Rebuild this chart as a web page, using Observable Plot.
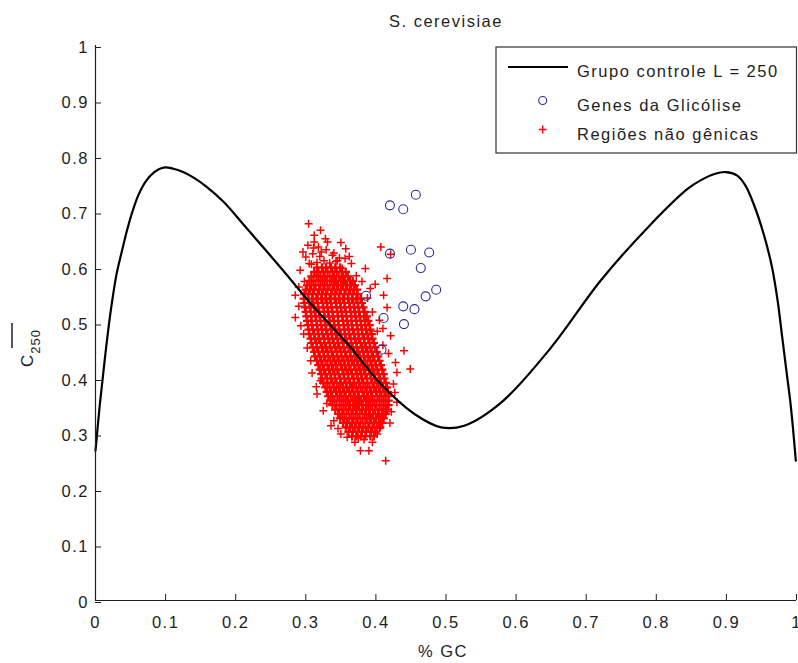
<!DOCTYPE html>
<html><head><meta charset="utf-8">
<script src="https://cdn.jsdelivr.net/npm/d3@7"></script>
<script src="https://cdn.jsdelivr.net/npm/@observablehq/plot@0.6"></script>
<style>
body{margin:0;background:#fff;}
#chart svg{display:block;}
</style>
</head><body><div id="chart"></div>
<script>
// ---- control curve (Grupo controle L = 250) ----
const curveGC = [0, 0.006, 0.010, 0.014, 0.019, 0.023, 0.030, 0.037, 0.045, 0.052, 0.061, 0.071, 0.083, 0.097, 0.111, 0.125, 0.140, 0.159, 0.183, 0.212, 0.264, 0.312, 0.36, 0.407, 0.455, 0.493, 0.526, 0.579, 0.65, 0.721, 0.793, 0.845, 0.863, 0.882, 0.899, 0.915, 0.927, 0.939, 0.953, 0.965, 0.973, 0.979, 0.985, 0.991, 0.995, 0.999];
const curveC  = [0.27, 0.351, 0.397, 0.443, 0.496, 0.533, 0.588, 0.626, 0.667, 0.698, 0.730, 0.754, 0.771, 0.780, 0.778, 0.772, 0.762, 0.745, 0.718, 0.676, 0.60, 0.528, 0.462, 0.39, 0.336, 0.312, 0.315, 0.357, 0.456, 0.577, 0.679, 0.742, 0.757, 0.768, 0.772, 0.766, 0.748, 0.714, 0.661, 0.601, 0.541, 0.481, 0.42, 0.36, 0.31, 0.252];

// ---- Genes da Glicólise ----
const glyGC = [0.457, 0.420, 0.439, 0.420, 0.450, 0.476, 0.464, 0.486, 0.471, 0.386, 0.439, 0.455, 0.411, 0.440, 0.408];
const glyC  = [0.731, 0.712, 0.705, 0.625, 0.632, 0.627, 0.599, 0.560, 0.548, 0.549, 0.530, 0.525, 0.509, 0.498, 0.452];

// ---- Regiões não gênicas: dense core, one row per C value: [C, GC, GC, ...] ----
const nonGenicRows = [
[0.600,0.316,0.323,0.329,0.336,0.342,0.349],
[0.592,0.312,0.318,0.325,0.331,0.338,0.344,0.351,0.357],
[0.584,0.308,0.315,0.321,0.327,0.334,0.340,0.347,0.353,0.360],
[0.576,0.305,0.311,0.318,0.324,0.330,0.337,0.343,0.350,0.356,0.363,0.367],
[0.568,0.302,0.308,0.314,0.321,0.327,0.334,0.340,0.346,0.353,0.359,0.365,0.370],
[0.560,0.300,0.306,0.312,0.319,0.325,0.331,0.338,0.344,0.350,0.357,0.363,0.369,0.373],
[0.552,0.298,0.304,0.310,0.317,0.323,0.329,0.336,0.342,0.348,0.355,0.361,0.367,0.374],
[0.544,0.297,0.303,0.309,0.315,0.322,0.328,0.334,0.341,0.347,0.353,0.360,0.366,0.372,0.378],
[0.536,0.298,0.305,0.311,0.317,0.324,0.330,0.336,0.343,0.349,0.355,0.362,0.368,0.374,0.380],
[0.528,0.299,0.306,0.312,0.318,0.325,0.331,0.337,0.344,0.350,0.356,0.363,0.369,0.375,0.382],
[0.520,0.300,0.307,0.313,0.319,0.326,0.332,0.338,0.345,0.351,0.357,0.364,0.370,0.376,0.384],
[0.512,0.301,0.308,0.314,0.320,0.327,0.333,0.339,0.346,0.352,0.358,0.365,0.371,0.377,0.383,0.387],
[0.504,0.302,0.308,0.315,0.321,0.327,0.334,0.340,0.346,0.353,0.359,0.365,0.372,0.378,0.384,0.389],
[0.496,0.303,0.309,0.316,0.322,0.328,0.335,0.341,0.347,0.354,0.360,0.366,0.373,0.379,0.385,0.391],
[0.488,0.304,0.310,0.317,0.323,0.329,0.336,0.342,0.348,0.355,0.361,0.367,0.374,0.380,0.386,0.392],
[0.480,0.305,0.312,0.318,0.324,0.331,0.337,0.343,0.350,0.356,0.362,0.369,0.375,0.381,0.388,0.394],
[0.472,0.307,0.313,0.319,0.326,0.332,0.338,0.345,0.351,0.357,0.364,0.370,0.376,0.383,0.389,0.395],
[0.464,0.308,0.315,0.321,0.327,0.334,0.340,0.346,0.353,0.359,0.365,0.372,0.378,0.384,0.391,0.397],
[0.456,0.310,0.316,0.323,0.329,0.335,0.342,0.348,0.354,0.361,0.367,0.373,0.380,0.386,0.392,0.399],
[0.448,0.312,0.318,0.325,0.331,0.337,0.344,0.350,0.356,0.363,0.369,0.375,0.382,0.388,0.394,0.401],
[0.440,0.313,0.320,0.326,0.332,0.339,0.345,0.351,0.358,0.364,0.370,0.377,0.383,0.389,0.396,0.403],
[0.432,0.316,0.322,0.328,0.335,0.341,0.347,0.354,0.360,0.366,0.373,0.379,0.385,0.392,0.398,0.405],
[0.424,0.318,0.324,0.331,0.337,0.343,0.350,0.356,0.362,0.369,0.375,0.381,0.388,0.394,0.400,0.407],
[0.416,0.320,0.326,0.333,0.339,0.345,0.352,0.358,0.364,0.371,0.377,0.383,0.390,0.396,0.402,0.409],
[0.408,0.322,0.328,0.335,0.341,0.347,0.354,0.360,0.366,0.373,0.379,0.385,0.392,0.398,0.404,0.411],
[0.400,0.323,0.330,0.336,0.342,0.349,0.355,0.361,0.368,0.374,0.380,0.387,0.393,0.399,0.406,0.412],
[0.392,0.325,0.331,0.338,0.344,0.350,0.357,0.363,0.369,0.376,0.382,0.388,0.395,0.401,0.407,0.414],
[0.384,0.328,0.334,0.340,0.347,0.353,0.359,0.366,0.372,0.378,0.385,0.391,0.397,0.404,0.410,0.416],
[0.376,0.330,0.336,0.343,0.349,0.355,0.362,0.368,0.374,0.381,0.387,0.393,0.400,0.406,0.412,0.417],
[0.368,0.332,0.338,0.345,0.351,0.357,0.364,0.370,0.376,0.383,0.389,0.395,0.402,0.408,0.414,0.418],
[0.360,0.335,0.341,0.348,0.354,0.360,0.367,0.373,0.379,0.386,0.392,0.398,0.405,0.411,0.418],
[0.352,0.338,0.344,0.351,0.357,0.363,0.370,0.376,0.382,0.389,0.395,0.401,0.408,0.414,0.418],
[0.344,0.342,0.348,0.354,0.361,0.367,0.373,0.380,0.386,0.392,0.399,0.405,0.411,0.416],
[0.336,0.346,0.352,0.358,0.365,0.371,0.377,0.384,0.390,0.396,0.403,0.409,0.414],
[0.328,0.349,0.355,0.362,0.368,0.374,0.381,0.387,0.393,0.400,0.406,0.411],
[0.320,0.353,0.359,0.366,0.372,0.378,0.385,0.391,0.397,0.404,0.409],
[0.312,0.357,0.363,0.370,0.376,0.382,0.389,0.395,0.401,0.406],
[0.304,0.361,0.367,0.374,0.380,0.386,0.393,0.399],
[0.296,0.366,0.372,0.379,0.385,0.392,0.397]
];
// ---- Regiões não gênicas: scattered points around the core ----
const extraGC = [0.304,0.321,0.312,0.328,0.312,0.331,0.357,0.300,0.292,0.338,0.352,0.407,0.421,0.416,0.392,0.411,0.416,0.285,0.285,0.421,0.440,0.428,0.449,0.430,0.325,0.340,0.378,0.390,0.414,0.359,0.402,0.430,0.316,0.307,0.297,0.321,0.296,0.305,0.318,0.345,0.365,0.298,0.372,0.380,0.388,0.395,0.405,0.410,0.402,0.410,0.418,0.425,0.427,0.422,0.420,0.336,0.350,0.370,0.383,0.346,0.290,0.290,0.293,0.302,0.309,0.315,0.330,0.395,0.375,0.405,0.413,0.399,0.385,0.362,0.350,0.320,0.310,0.308,0.316,0.326,0.334,0.343,0.303,0.311,0.322,0.329,0.340,0.348,0.356];
const extraC  = [0.679,0.667,0.658,0.652,0.646,0.646,0.634,0.619,0.595,0.622,0.598,0.637,0.624,0.580,0.562,0.550,0.528,0.550,0.510,0.477,0.450,0.429,0.417,0.411,0.342,0.324,0.270,0.270,0.252,0.294,0.300,0.357,0.372,0.432,0.480,0.396,0.628,0.607,0.637,0.612,0.607,0.575,0.585,0.575,0.545,0.520,0.505,0.490,0.485,0.460,0.445,0.390,0.375,0.340,0.320,0.315,0.300,0.285,0.290,0.310,0.565,0.530,0.495,0.455,0.410,0.385,0.355,0.285,0.293,0.310,0.335,0.570,0.598,0.620,0.645,0.620,0.625,0.606,0.609,0.612,0.608,0.611,0.640,0.635,0.628,0.632,0.626,0.617,0.616];

// ---- ticks and texts ----
const xTicks = [0, 0.1, 0.2, 0.3, 0.4, 0.5, 0.6, 0.7, 0.8, 0.9, 1];
const yTicks = [0, 0.1, 0.2, 0.3, 0.4, 0.5, 0.6, 0.7, 0.8, 0.9, 1];
const titleText = "S. cerevisiae";
const xLabelText = "% GC";
const yLabelMain = "C";
const yLabelSub = "250";
const legendLabels = ["Grupo controle L = 250", "Genes da Glicólise", "Regiões não gênicas"];

// ---- build tables ----
const curveData = curveGC.map((x, i) => ({x, y: curveC[i]}));
const glyData = glyGC.map((x, i) => ({x, y: glyC[i]}));
const coreData = [];
for (const row of nonGenicRows) for (let j = 1; j < row.length; j++) coreData.push({x: row[j], y: row[0]});
const extraData = extraGC.map((x, i) => ({x, y: extraC[i]}));

const thinPlus = {
  draw(context, size) {
    const r = Math.sqrt(size / Math.PI);
    context.moveTo(-r, 0); context.lineTo(r, 0);
    context.moveTo(0, -r); context.lineTo(0, r);
  }
};
const fmt = d => String(+(+d).toFixed(1));
const FONT = "'Liberation Sans', Arial, Helvetica, sans-serif";
const INK = "#1e1e1e";
const BLUE = "#2a2a9c";
const RED = "#ff0000";

const chart = Plot.plot({
  width: 798, height: 663,
  marginLeft: 95, marginRight: 2, marginTop: 45, marginBottom: 63,
  x: {domain: [0, 1]},
  y: {domain: [0, 1]},
  style: {fontFamily: FONT, fontSize: "16.5px", letterSpacing: "1.5px", color: INK, background: "#fff"},
  marks: [
    Plot.dot(coreData, {x: "x", y: "y", symbol: thinPlus, r: 4.2, stroke: RED, fill: "none", strokeWidth: 2.2}),
    Plot.dot(extraData, {x: "x", y: "y", symbol: thinPlus, r: 4, stroke: RED, fill: "none", strokeWidth: 1.5}),
    Plot.line(curveData, {x: "x", y: "y", curve: "catmull-rom", stroke: "#000", strokeWidth: 2.2}),
    Plot.dot(glyData, {x: "x", y: "y", r: 4.5, stroke: BLUE, fill: "none", strokeWidth: 1.1}),
    Plot.ruleX([0], {stroke: INK, strokeWidth: 1.2}),
    Plot.ruleY([0], {stroke: INK, strokeWidth: 1.2}),
    Plot.axisX({ticks: xTicks, tickSize: -6, tickPadding: 22, tickFormat: fmt, label: null, stroke: INK, fill: INK}),
    Plot.axisY({ticks: yTicks, tickSize: -6, tickPadding: 12.5, tickFormat: fmt, label: null, stroke: INK, fill: INK, dy: 2})
  ]
});
document.getElementById("chart").appendChild(chart);

const svg = d3.select(chart);
const txt = (x, y, s, anchor) => svg.append("text").attr("x", x).attr("y", y).attr("text-anchor", anchor || "middle")
  .attr("fill", INK).style("font-family", FONT).style("font-size", "16.5px").style("letter-spacing", "1.5px").text(s);

txt(446, 27, titleText);
txt(443, 657, xLabelText);

// y label: overline C with subscript 250, rotated
const yl = svg.append("text").attr("transform", "translate(33,348) rotate(-90)")
  .attr("fill", INK).style("font-family", FONT).style("font-size", "17px").style("letter-spacing", "1px");
yl.append("tspan").text(yLabelMain);
yl.append("tspan").attr("dy", 7).style("font-size", "13px").text(yLabelSub);
svg.append("line").attr("x1", 12).attr("x2", 12).attr("y1", 323).attr("y2", 348).attr("stroke", INK).attr("stroke-width", 1.5);

// legend
const lg = svg.append("g");
lg.append("rect").attr("x", 496).attr("y", 47).attr("width", 300.5).attr("height", 106)
  .attr("fill", "#fff").attr("stroke", "#333").attr("stroke-width", 1.2);
lg.append("line").attr("x1", 508).attr("x2", 568).attr("y1", 67).attr("y2", 67).attr("stroke", "#000").attr("stroke-width", 2);
lg.append("circle").attr("cx", 542.7).attr("cy", 100.5).attr("r", 4).attr("fill", "none").attr("stroke", BLUE).attr("stroke-width", 1.1);
lg.append("path").attr("d", "M538.7,129.5H546.7M542.7,125.5V133.5").attr("stroke", RED).attr("stroke-width", 1.4).attr("fill", "none");
[77, 110.5, 140].forEach((y, i) => txt(577, y, legendLabels[i], "start"));
</script>
</body></html>
